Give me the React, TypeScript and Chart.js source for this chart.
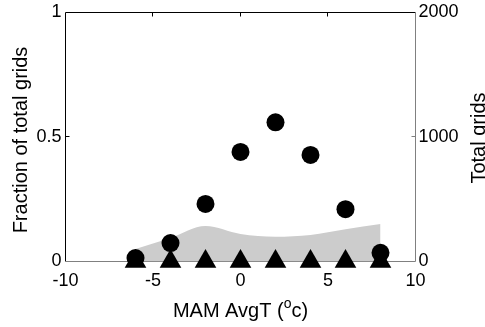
import React, { useEffect, useRef } from "react";
import { Chart, registerables } from "chart.js";

Chart.register(...registerables);

const temps = [-6, -4, -2, 0, 2, 4, 6, 8];
const fraction = [0.014, 0.074, 0.231, 0.44, 0.559, 0.428, 0.21, 0.035];
const zeroFraction = [0, 0, 0, 0, 0, 0, 0, 0];
const totalGrids = [100, 189, 285, 221, 199, 213, 259, 301];
const xTickValues = [-5, 0, 5];
const leftTickValues = [0.5];
const rightTickValues = [1000];
const xTitleMain = "MAM AvgT (";
const xTitleSup = "o";
const xTitleEnd = "c)";
const leftTitle = "Fraction of total grids";
const rightTitle = "Total grids";

const FONT = '"Liberation Sans", Arial, Helvetica, sans-serif';

const framePlugin = {
  id: "frame",
  beforeDatasetsDraw(chart: any) {
    const { ctx, chartArea } = chart;
    const { left, right, top, bottom } = chartArea;
    const x = chart.scales.x;
    const y = chart.scales.y;
    const y2 = chart.scales.y2;
    const snap = (v: number) => Math.floor(v - 0.5) + 0.5;
    ctx.save();
    ctx.lineWidth = 1;
    ctx.strokeStyle = "#000";
    ctx.beginPath();
    ctx.moveTo(left, bottom);
    ctx.lineTo(left, top);
    ctx.lineTo(right, top);
    ctx.stroke();
    ctx.beginPath();
    xTickValues.forEach((v) => {
      const px = snap(x.getPixelForValue(v));
      ctx.moveTo(px, top);
      ctx.lineTo(px, top + 4);
    });
    leftTickValues.forEach((v) => {
      const py = snap(y.getPixelForValue(v));
      ctx.moveTo(left, py);
      ctx.lineTo(left + 4, py);
    });
    ctx.stroke();
    ctx.strokeStyle = "#808080";
    ctx.beginPath();
    ctx.moveTo(left, bottom);
    ctx.lineTo(right, bottom);
    ctx.lineTo(right, top);
    ctx.stroke();
    ctx.beginPath();
    xTickValues.forEach((v) => {
      const px = snap(x.getPixelForValue(v));
      ctx.moveTo(px, bottom);
      ctx.lineTo(px, bottom - 4);
    });
    rightTickValues.forEach((v) => {
      const py = snap(y2.getPixelForValue(v));
      ctx.moveTo(right, py);
      ctx.lineTo(right - 4, py);
    });
    ctx.stroke();
    ctx.restore();
  },
  afterDraw(chart: any) {
    const { ctx, chartArea } = chart;
    ctx.save();
    ctx.fillStyle = "#000";
    const big = `20px ${FONT}`;
    const small = `14px ${FONT}`;
    ctx.font = big;
    const w1 = ctx.measureText(xTitleMain).width;
    const w3 = ctx.measureText(xTitleEnd).width;
    ctx.font = small;
    const w2 = ctx.measureText(xTitleSup).width;
    const total = w1 + w2 + w3;
    const cx = (chartArea.left + chartArea.right) / 2;
    let sx = cx - total / 2;
    const base = 317;
    ctx.textBaseline = "alphabetic";
    ctx.textAlign = "left";
    ctx.font = big;
    ctx.fillText(xTitleMain, sx, base);
    sx += w1;
    ctx.font = small;
    ctx.fillText(xTitleSup, sx, base - 9);
    sx += w2;
    ctx.font = big;
    ctx.fillText(xTitleEnd, sx, base);

    const cy = (chartArea.top + chartArea.bottom) / 2;
    ctx.textAlign = "center";
    ctx.save();
    ctx.translate(26.5, cy + 3);
    ctx.rotate(-Math.PI / 2);
    ctx.font = big;
    ctx.fillText(leftTitle, 0, 0);
    ctx.restore();
    ctx.save();
    ctx.translate(484.5, cy + 1);
    ctx.rotate(-Math.PI / 2);
    ctx.font = big;
    ctx.fillText(rightTitle, 0, 0);
    ctx.restore();
    ctx.restore();
  },
};

export default function App() {
  const ref = useRef<HTMLCanvasElement>(null);
  useEffect(() => {
    if (!ref.current) return;
    const tickFont = { family: FONT, size: 18 };
    const chart = new Chart(ref.current, {
      type: "line",
      data: {
        datasets: [
          {
            label: "Total grids",
            data: temps.map((t, i) => ({ x: t, y: totalGrids[i] })),
            yAxisID: "y2",
            fill: "origin",
            backgroundColor: "#cccccc",
            borderColor: "rgba(0,0,0,0)",
            borderWidth: 0,
            pointRadius: 0,
            cubicInterpolationMode: "monotone",
            order: 3,
          },
          {
            label: "Fraction",
            data: temps.map((t, i) => ({ x: t, y: fraction[i] })),
            yAxisID: "y",
            showLine: false,
            pointStyle: "circle",
            pointRadius: 9,
            pointBackgroundColor: "#000",
            pointBorderWidth: 0,
            clip: false,
            order: 2,
          } as any,
          {
            label: "Zero",
            data: temps.map((t, i) => ({ x: t, y: zeroFraction[i] })),
            yAxisID: "y",
            showLine: false,
            pointStyle: "triangle",
            pointRadius: 12.5,
            pointBackgroundColor: "#000",
            pointBorderWidth: 0,
            clip: false,
            order: 1,
          } as any,
        ],
      },
      options: {
        animation: false,
        responsive: false,
        devicePixelRatio: 1,
        layout: { padding: { top: 12.5, left: 0, right: 0, bottom: 0 } },
        plugins: { legend: { display: false }, tooltip: { enabled: false } },
        scales: {
          x: {
            type: "linear",
            position: "bottom",
            min: -10,
            max: 10,
            grid: { display: false, drawTicks: false },
            border: { display: false },
            ticks: {
              stepSize: 5,
              color: "#000",
              font: tickFont,
              padding: 9,
              maxRotation: 0,
              callback: (v: any) => String(v),
            },
            afterFit: (s: any) => {
              s.height = 65.5;
              s.paddingLeft = 0;
              s.paddingRight = 0;
            },
          },
          y: {
            type: "linear",
            position: "left",
            min: 0,
            max: 1,
            grid: { display: false, drawTicks: false },
            border: { display: false },
            ticks: {
              stepSize: 0.5,
              color: "#000",
              font: tickFont,
              padding: 4,
              callback: (v: any) => String(v),
            },
            afterFit: (s: any) => {
              s.width = 65.5;
              s.paddingTop = 0;
              s.paddingBottom = 0;
            },
          },
          y2: {
            type: "linear",
            position: "right",
            min: 0,
            max: 2000,
            grid: { display: false, drawTicks: false },
            border: { display: false },
            ticks: {
              stepSize: 1000,
              color: "#000",
              font: tickFont,
              padding: 3,
              callback: (v: any) => String(v),
            },
            afterFit: (s: any) => {
              s.width = 69.5;
              s.paddingTop = 0;
              s.paddingBottom = 0;
            },
          },
        },
      } as any,
      plugins: [framePlugin],
    });
    return () => chart.destroy();
  }, []);
  return (
    <div style={{ position: "absolute", left: 0, top: 0, width: 485, height: 327, background: "#fff" }}>
      <canvas ref={ref} width={485} height={327} style={{ display: "block" }} />
    </div>
  );
}
